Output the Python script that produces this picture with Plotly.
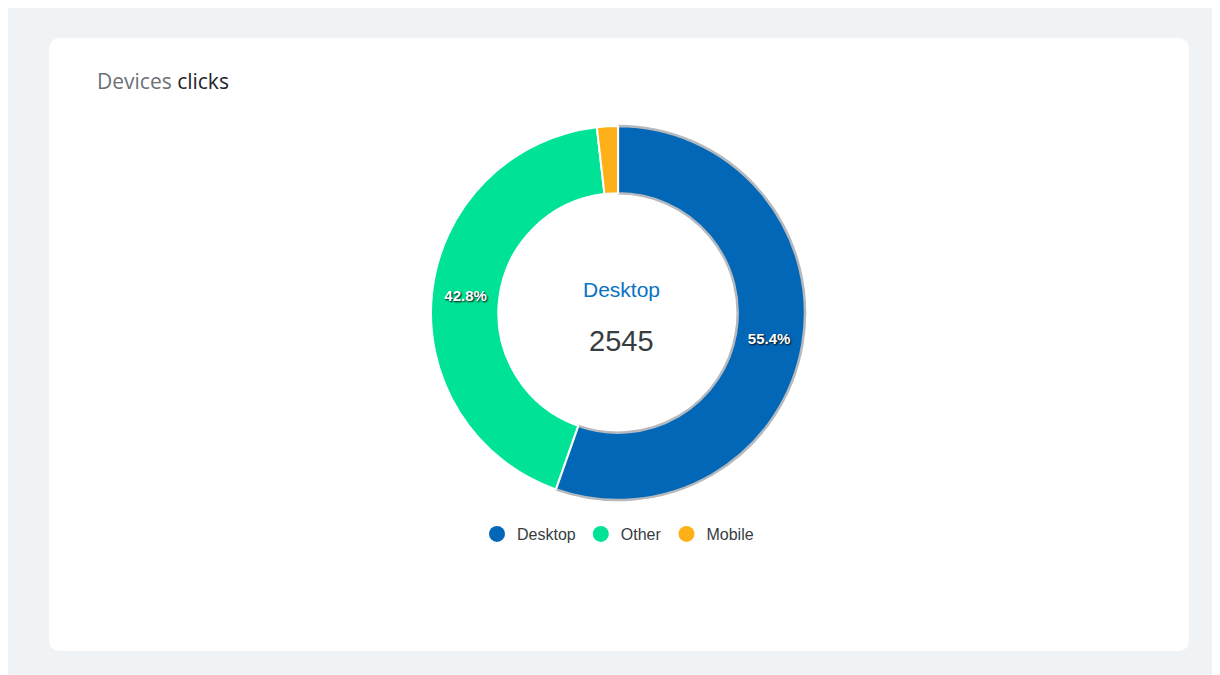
import plotly.graph_objects as go

labels = ["Desktop", "Other", "Mobile"]
clicks = [2545, 1966, 83]
colors = ["#0367b8", "#00e396", "#feb019"]
shown_text = ["%{percent:.1%}", "%{percent:.1%}", ""]

W, H = 1220, 675


def py(y):
    return 1 - y / H


fig = go.Figure()

fig.add_trace(go.Pie(
    labels=labels, values=clicks, sort=False, direction="clockwise",
    hole=0.64, showlegend=False,
    marker=dict(colors=colors, line=dict(color=["#b5b9bd", "#ffffff", "#ffffff"], width=[2.5, 2, 2])),
    texttemplate=shown_text, textposition="inside", insidetextorientation="horizontal",
    textfont=dict(family="Arial", size=15, color="white", weight="bold", shadow="1px 1px 2px #000"),
    domain=dict(x=[0.3, 0.7], y=[py(492), py(118)]),
))

# legend entries with round markers
for name, c in zip(labels, colors):
    fig.add_trace(go.Scatter(x=[None], y=[None], mode="markers", name=name,
                             marker=dict(symbol="circle", size=17, color=c)))

# white rounded card
x0, x1, y0, y1, r = 41 / W, 1181 / W, py(643), py(30), 0.012
rx, ry = 12 / W, 12 / H
card = (f"M {x0+rx},{y0} L {x1-rx},{y0} Q {x1},{y0} {x1},{y0+ry} L {x1},{y1-ry} "
        f"Q {x1},{y1} {x1-rx},{y1} L {x0+rx},{y1} Q {x0},{y1} {x0},{y1-ry} "
        f"L {x0},{y0+ry} Q {x0},{y0} {x0+rx},{y0} Z")
fig.add_shape(type="path", path=card, xref="paper", yref="paper",
              fillcolor="white", line=dict(width=0), layer="below")

fig.add_annotation(x=87 / W, y=py(73), xref="paper", yref="paper", xanchor="left", yanchor="middle",
                   text="<span style='color:#6b6f75'>Devices</span> clicks", showarrow=False,
                   font=dict(family="Open Sans", size=21, color="#1f2329"))
fig.add_annotation(x=613 / W, y=py(281), xref="paper", yref="paper", showarrow=False,
                   text=labels[0], font=dict(family="Arial", size=21, color="#0a72c2"))
fig.add_annotation(x=613 / W, y=py(333), xref="paper", yref="paper", showarrow=False,
                   text=str(clicks[0]), font=dict(family="Arial", size=29, color="#373d3f"))

fig.update_layout(
    width=W, height=H, margin=dict(l=0, r=0, t=0, b=0),
    paper_bgcolor="#f0f3f6", plot_bgcolor="rgba(0,0,0,0)",
    xaxis=dict(visible=False), yaxis=dict(visible=False),
    legend=dict(orientation="h", x=0.5, xanchor="center", y=py(526), yanchor="middle",
                font=dict(family="Arial", size=16, color="#373d3f"), itemwidth=30,
                bgcolor="rgba(0,0,0,0)"),
)

fig.write_html("out.html")
